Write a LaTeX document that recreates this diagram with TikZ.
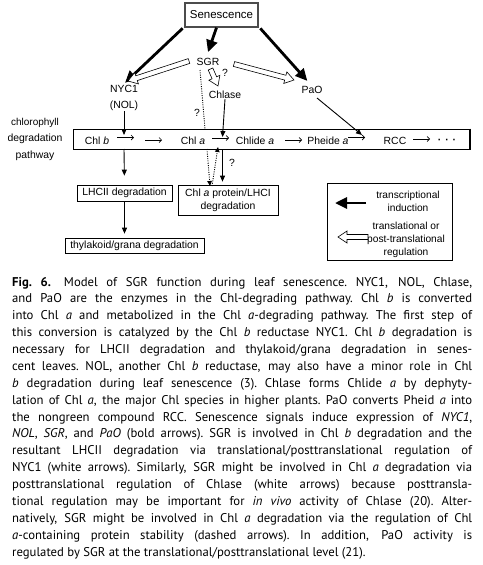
\documentclass[tikz,border=0pt]{standalone}
\usepackage{fontspec}
\setmainfont{Liberation Sans}
\newfontfamily\capfont{PT Sans}
\usetikzlibrary{arrows.meta,calc}

\tikzset{
  lbl/.style={font=\fontsize{10.4}{16.5}\selectfont, inner sep=0pt, align=center},
  box/.style={draw, line width=0.7pt, inner sep=0pt, align=center, font=\fontsize{10.4}{13}\selectfont},
  boldarr/.style={line width=2.8pt, -{Triangle[length=12pt,width=11pt]}},
  thinarr/.style={line width=0.9pt, -{Triangle[length=6pt,width=5pt]}},
  dotline/.style={line width=0.9pt, dash pattern=on 1pt off 1.3pt},
  smallarr/.style={line width=0.7pt, -{Straight Barb[length=2.5pt,width=5pt]}},
  hollowarr/.style={draw, fill=white, line width=0.6pt, line join=miter},
  capl/.style={anchor=base west, inner sep=0pt, font=\capfont\fontsize{12.7}{16.875}\selectfont},
}
\newcommand\hollowarrow[2]{%
  \draw[hollowarr] let \p1=(#1), \p2=(#2), \n1={atan2(\y2-\y1,\x2-\x1)}, \n2={veclen(\x2-\x1,\y2-\y1)} in
    ($(\p1)+(\n1+90:2.5pt)$) -- ($(\p1)+(\n1:\n2-9pt)+(\n1+90:2.5pt)$)
    -- ($(\p1)+(\n1:\n2-9pt)+(\n1+90:6pt)$) -- (\p2)
    -- ($(\p1)+(\n1:\n2-9pt)+(\n1-90:6pt)$) -- ($(\p1)+(\n1:\n2-9pt)+(\n1-90:2.5pt)$)
    -- ($(\p1)+(\n1-90:2.5pt)$) -- cycle;}
\newcommand\capline[1]{\hbox to 460pt{\spaceskip=0.25em plus 0.6em minus 0.12em\xspaceskip=\spaceskip #1}}

\begin{document}
\begin{tikzpicture}[x=1pt,y=-1pt]
\useasboundingbox (0,0) rectangle (482,565);
\fill[white] (0,0) rectangle (482,565);

% top nodes
\node[box, line width=1.3pt, draw=black!70, minimum width=73pt, minimum height=24pt,
      font=\fontsize{11.5}{13}\selectfont] (sen) at (221.5,15) {Senescence};
\node[lbl] (sgr) at (208,62) {SGR};
\node[lbl] (nyc) at (124,98) {NYC1\\(NOL)};
\node[lbl] (chlase) at (225,95) {Chlase};
\node[lbl] (pao) at (312,90) {PaO};

% pathway
\node[lbl] (pwlabel) at (35,139) {\fontsize{10}{12.8}\selectfont chlorophyll\\degradation\\pathway};
\node[draw, line width=0.7pt, minimum width=397pt, minimum height=20pt, inner sep=0pt] (pw) at (271.5,139) {};
\draw[line width=1.8pt] (pw.north east) -- (pw.south east);
\node[lbl] (chlb) at (97,141) {Chl \textit{b}};
\node[lbl] (chla) at (193,141) {Chl \textit{a}};
\node[lbl] (chlide) at (255,141) {Chlide \textit{a}};
\node[lbl] (pheide) at (328,141) {Pheide \textit{a}};
\node[lbl] (rcc) at (395,141) {RCC};
\node[lbl] (dots) at (447,141) {\textbf{·\hspace{4pt}·\hspace{4pt}·}};

\coordinate (a1s) at (117,137.5); \coordinate (a1e) at (134,137.5);
\coordinate (a2s) at (145,140);   \coordinate (a2e) at (162,140);
\coordinate (a3s) at (212,138);   \coordinate (a3e) at (229,138);
\coordinate (a4s) at (285,140);   \coordinate (a4e) at (302,140);
\coordinate (a5s) at (348,137.5); \coordinate (a5e) at (365,137.5);
\coordinate (a6s) at (413,139);   \coordinate (a6e) at (430,139);
\foreach \i in {1,...,6} \draw[smallarr] (a\i s) -- (a\i e);

% lower boxes
\node[box, minimum width=95pt, minimum height=16pt] (lhc) at (124.5,193) {LHCII degradation};
\node[box, minimum width=139pt, minimum height=15pt] (thy) at (134.5,245.5) {thylakoid/grana degradation};
\node[box, minimum width=100pt, minimum height=30pt] (cpb) at (228,200) {Chl \textit{a} protein/LHCI\\degradation};

% bold arrows
\draw[boldarr, shorten <=1pt] ([xshift=-1pt]sen.south west) -- ([xshift=1pt,yshift=2pt]nyc.north);
\draw[boldarr] ([xshift=-5pt]sen.south) -- ([yshift=6pt]sgr.north);
\draw[boldarr, shorten <=1pt, shorten >=7pt] ([xshift=1pt]sen.south east) -- (pao.north);

% hollow arrows
\coordinate (w1s) at (189,61); \coordinate (w1e) at (128,81);
\coordinate (w2s) at (234,64); \coordinate (w2e) at (294,80);
\coordinate (w3s) at (210.5,69); \coordinate (w3e) at (218,86);
\hollowarrow{w1s}{w1e}
\hollowarrow{w2s}{w2e}
\hollowarrow{w3s}{w3e}
\node[lbl] (q1) at (225,73) {?};

% dotted lines
\coordinate (d1) at (200,70); \coordinate (d2) at (205,129);
\draw[dotline] (d1) -- (d2);
\node[lbl] (q2) at (197,113) {?};
\coordinate (d3) at (207,149); \coordinate (d4) at (210,186);
\coordinate (d5) at (212,186); \coordinate (d6) at (218,147);
\draw[dotline, -{Triangle[length=5pt,width=4.5pt]}] (d3) -- (d4);
\draw[dotline, -{Triangle[length=5pt,width=4.5pt]}] (d5) -- (d6);

% enzyme arrows
\coordinate (nycend) at (124,135);
\draw[thinarr] (nyc.south) -- (nycend);
\coordinate (chlend) at (222.5,137);
\draw[thinarr] (chlase.south) -- (chlend);
\coordinate (paos) at (317,98); \coordinate (paoend) at (362,135);
\draw[thinarr] (paos) -- (paoend);

% downward arrows
\coordinate (bdown) at (124,149);
\draw[thinarr, shorten >=9pt] (bdown) -- (lhc.north);
\draw[thinarr, shorten >=4pt] (lhc.south) -- (lhc.south |- thy.north);
\coordinate (adown) at (222.5,149);
\draw[thinarr, shorten >=3pt] (adown) -- (adown |- cpb.north);
\node[lbl] (q3) at (232,163) {?};

% legend
\node[draw, line width=0.7pt, minimum width=125pt, minimum height=77pt, inner sep=0pt] (leg) at (389.5,221.5) {};
\node[lbl, font=\fontsize{10.2}{13}\selectfont] (legt1) at (408,201.5) {transcriptional\\induction};
\node[lbl, font=\fontsize{10.2}{13}\selectfont] (legt2) at (406,240) {translational or\\post-translational\\regulation};
\coordinate (lb1) at (366,203); \coordinate (lb2) at (335,203);
\draw[boldarr] (lb1) -- (lb2);
\coordinate (lw1) at (368,237); \coordinate (lw2) at (338,237);
\hollowarrow{lw1}{lw2}

% caption, one node per printed line
\node[capl] (c1)  at (12,286.0) {\capline{\textbf{Fig. 6.}\hspace{13pt}Model of SGR function during leaf senescence. NYC1, NOL, Chlase,}};
\node[capl] (c2)  at (12,302.9) {\capline{and PaO are the enzymes in the Chl-degrading pathway. Chl \textit{b} is converted}};
\node[capl] (c3)  at (12,319.8) {\capline{into Chl \textit{a} and metabolized in the Chl \textit{a}-degrading pathway. The first step of}};
\node[capl] (c4)  at (12,336.6) {\capline{this conversion is catalyzed by the Chl \textit{b} reductase NYC1. Chl \textit{b} degradation is}};
\node[capl] (c5)  at (12,353.5) {\capline{necessary for LHCII degradation and thylakoid/grana degradation in senes-}};
\node[capl] (c6)  at (12,370.4) {\capline{cent leaves. NOL, another Chl \textit{b} reductase, may also have a minor role in Chl}};
\node[capl] (c7)  at (12,387.3) {\capline{\textit{b} degradation during leaf senescence (3). Chlase forms Chlide \textit{a} by dephyty-}};
\node[capl] (c8)  at (12,404.1) {\capline{lation of Chl \textit{a}, the major Chl species in higher plants. PaO converts Pheid \textit{a} into}};
\node[capl] (c9)  at (12,421.0) {\capline{the nongreen compound RCC. Senescence signals induce expression of \textit{NYC1},}};
\node[capl] (c10) at (12,437.9) {\capline{\textit{NOL}, \textit{SGR}, and \textit{PaO} (bold arrows). SGR is involved in Chl \textit{b} degradation and the}};
\node[capl] (c11) at (12,454.8) {\capline{resultant LHCII degradation via translational/posttranslational regulation of}};
\node[capl] (c12) at (12,471.6) {\capline{NYC1 (white arrows). Similarly, SGR might be involved in Chl \textit{a} degradation via}};
\node[capl] (c13) at (12,488.5) {\capline{posttranslational regulation of Chlase (white arrows) because posttransla-}};
\node[capl] (c14) at (12,505.4) {\capline{tional regulation may be important for \textit{in vivo} activity of Chlase (20). Alter-}};
\node[capl] (c15) at (12,522.3) {\capline{natively, SGR might be involved in Chl \textit{a} degradation via the regulation of Chl}};
\node[capl] (c16) at (12,539.1) {\capline{\textit{a}-containing protein stability (dashed arrows). In addition, PaO activity is}};
\node[capl] (c17) at (12,556.0) {regulated by SGR at the translational/posttranslational level (21).};
\end{tikzpicture}
\end{document}
